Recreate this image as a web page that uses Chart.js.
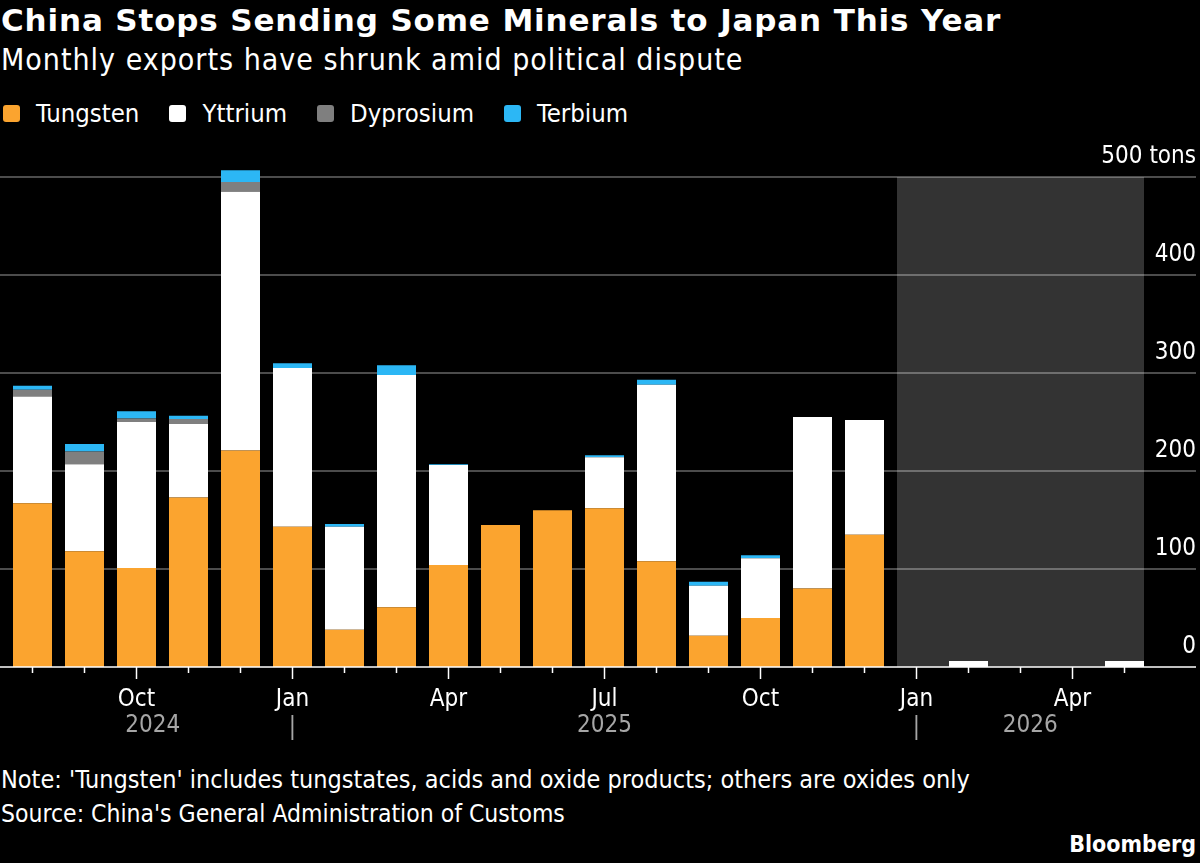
<!DOCTYPE html>
<html>
<head>
<meta charset="utf-8">
<script src="https://cdn.jsdelivr.net/npm/chart.js@4.4.0/dist/chart.umd.min.js"></script>
<style>
body { margin: 0; background: #000; width: 1200px; height: 863px; overflow: hidden; position: relative;
  font-family: "DejaVu Sans Condensed", "Liberation Sans Narrow", "DejaVu Sans", sans-serif; color: #fff; }
.txt { position: absolute; left: 1px; white-space: nowrap; }
#title { top: 2px; font-family: "DejaVu Sans", sans-serif; font-size: 31px; font-weight: bold; letter-spacing: 0.85px; }
#subtitle { top: 42px; font-size: 30px; letter-spacing: 1px; }
#legend { position: absolute; left: 3px; top: 98px; font-size: 25.5px; display: flex; }
#legend span.item { display: flex; align-items: center; margin-right: 30px; }
#legend span.box { width: 17px; height: 17px; border-radius: 3px; margin-right: 16px; }
#note { top: 765px; font-size: 25px; }
#source { top: 799px; font-size: 24.5px; }
#brand { position: absolute; right: 4px; top: 831px; font-size: 23px; font-weight: bold; }
#wrap { position: absolute; left: 0; top: 140px; width: 1200px; height: 620px; }
</style>
</head>
<body>
<div id="title" class="txt">China Stops Sending Some Minerals to Japan This Year</div>
<div id="subtitle" class="txt">Monthly exports have shrunk amid political dispute</div>
<div id="legend"></div>
<div id="wrap"><canvas id="mineralsChart" width="1200" height="620"></canvas></div>
<div id="note" class="txt">Note: 'Tungsten' includes tungstates, acids and oxide products; others are oxides only</div>
<div id="source" class="txt">Source: China's General Administration of Customs</div>
<div id="brand">Bloomberg</div>

<script>
var months = ["Aug", "Sep", "Oct", "Nov", "Dec",
  "Jan", "Feb", "Mar", "Apr", "May", "Jun", "Jul", "Aug", "Sep", "Oct", "Nov", "Dec",
  "Jan", "Feb", "Mar", "Apr", "May"];
var years = [2024, 2024, 2024, 2024, 2024,
  2025, 2025, 2025, 2025, 2025, 2025, 2025, 2025, 2025, 2025, 2025, 2025,
  2026, 2026, 2026, 2026, 2026];

var tungsten   = [167, 118, 101, 173, 221, 143, 38, 61, 104, 145, 160, 162, 108, 32, 50, 80, 135, 0, 0, 0, 0, 0];
var yttrium    = [109, 89, 149, 75, 264, 162, 105, 237, 102, 0, 0, 52, 180, 51, 61, 175, 117, 0, 6, 0, 0, 6];
var dysprosium = [7, 13, 3.5, 5, 10, 0, 0, 0, 0, 0, 0, 0, 0, 0, 0, 0, 0, 0, 0, 0, 0, 0];
var terbium    = [4, 7.5, 7.5, 3.5, 12, 5, 3, 10, 1, 0, 0, 2, 5, 4, 3, 0, 0, 0, 0, 0, 0, 0];

var seriesNames = ["Tungsten", "Yttrium", "Dyprosium", "Terbium"];
var seriesColors = ["#fba42f", "#ffffff", "#7f7f7f", "#2cb7f5"];

var labelledMonths = ["Oct", "Jan", "Apr", "Jul"];
var yTicks = [0, 100, 200, 300, 400, 500];
var yUnit = "tons";
var shadedYear = 2026;

// legend
var legend = document.getElementById('legend');
seriesNames.forEach(function(name, i) {
  var item = document.createElement('span');
  item.className = 'item';
  item.innerHTML = '<span class="box" style="background:' + seriesColors[i] + '"></span>' + name;
  legend.appendChild(item);
});

var fontFamily = '"DejaVu Sans Condensed", "Liberation Sans Narrow", "DejaVu Sans", sans-serif';
Chart.defaults.font.family = fontFamily;

var chartDecor = {
  id: 'chartDecor',
  beforeDatasetsDraw: function(chart) {
    var ctx = chart.ctx, y = chart.scales.y;
    var bars = chart.getDatasetMeta(1).data;
    var first = years.indexOf(shadedYear), last = years.lastIndexOf(shadedYear);
    var left = bars[first].x - bars[first].width / 2;
    var right = bars[last].x + bars[last].width / 2;
    var top = y.getPixelForValue(yTicks[yTicks.length - 1]);
    var bottom = y.getPixelForValue(0);
    ctx.save();
    ctx.fillStyle = '#333333';
    ctx.fillRect(left, top, right - left, bottom - top);
    ctx.strokeStyle = 'rgba(255,255,255,0.4)';
    ctx.lineWidth = 1.5;
    yTicks.forEach(function(v) {
      if (v === 0) return;
      var py = y.getPixelForValue(v);
      ctx.beginPath();
      ctx.moveTo(0, py);
      ctx.lineTo(y.right, py);
      ctx.stroke();
    });
    ctx.restore();
  },
  afterDatasetsDraw: function(chart) {
    var ctx = chart.ctx, x = chart.scales.x, y = chart.scales.y;
    var base = y.getPixelForValue(0);
    ctx.save();
    ctx.strokeStyle = '#ffffff';
    ctx.lineWidth = 1.5;
    ctx.beginPath();
    ctx.moveTo(0, base);
    ctx.lineTo(y.right, base);
    ctx.stroke();
    months.forEach(function(m, i) {
      var px = x.getPixelForValue(i);
      var len = labelledMonths.indexOf(m) >= 0 ? 12 : 6;
      ctx.beginPath();
      ctx.moveTo(px, base);
      ctx.lineTo(px, base + len);
      ctx.stroke();
    });
    // year labels and separators
    var bars = chart.getDatasetMeta(0).data;
    var half = bars[0].width / 2;
    ctx.fillStyle = '#a6a6a6';
    ctx.font = '24px ' + fontFamily;
    ctx.textAlign = 'center';
    ctx.textBaseline = 'middle';
    var uniq = years.filter(function(v, i) { return years.indexOf(v) === i; });
    uniq.forEach(function(yr, k) {
      var a = years.indexOf(yr), b = years.lastIndexOf(yr);
      var start = k === 0 ? x.getPixelForValue(a) - half : x.getPixelForValue(a);
      var end = k === uniq.length - 1 ? x.getPixelForValue(b) + half : x.getPixelForValue(b + 1);
      ctx.fillText(String(yr), (start + end) / 2, base + 59);
      if (k > 0) ctx.fillText('|', x.getPixelForValue(a), base + 61);
    });
    ctx.restore();
  }
};

var datasets = [tungsten, yttrium, dysprosium, terbium].map(function(d, i) {
  return {
    label: seriesNames[i],
    data: d,
    backgroundColor: seriesColors[i],
    borderWidth: 0,
    barPercentage: 0.75,
    categoryPercentage: 1,
    clip: false
  };
});

var ctx = document.getElementById('mineralsChart').getContext('2d');
var chart = new Chart(ctx, {
  type: 'bar',
  data: {
    labels: months,
    datasets: datasets
  },
  options: {
    responsive: false,
    animation: false,
    devicePixelRatio: 1,
    layout: { padding: { left: 6.5, right: 4, top: 37, bottom: 0 } },
    plugins: { legend: { display: false }, tooltip: { enabled: false } },
    scales: {
      x: {
        stacked: true,
        grid: { display: false },
        border: { display: false },
        ticks: {
          autoSkip: false,
          maxRotation: 0,
          color: '#ffffff',
          font: { size: 24 },
          padding: 10,
          callback: function(v, i) {
            return labelledMonths.indexOf(months[i]) >= 0 ? months[i] : '';
          }
        },
        afterFit: function(s) { s.height = 93; }
      },
      y: {
        stacked: true,
        position: 'right',
        min: 0,
        max: 500,
        grid: { display: false },
        border: { display: false },
        afterBuildTicks: function(s) { s.ticks = yTicks.map(function(v) { return { value: v }; }); },
        ticks: {
          color: '#ffffff',
          font: { size: 24 },
          mirror: true,
          padding: 45.5,
          crossAlign: 'near',
          labelOffset: -20,
          callback: function(v) { return v === yTicks[yTicks.length - 1] ? v + ' ' + yUnit : v; }
        },
        afterFit: function(s) {
          s.width = 45.5;
          s.paddingTop = 0;
          s.paddingBottom = 0;
        }
      }
    }
  },
  plugins: [chartDecor]
});
</script>
</body>
</html>
